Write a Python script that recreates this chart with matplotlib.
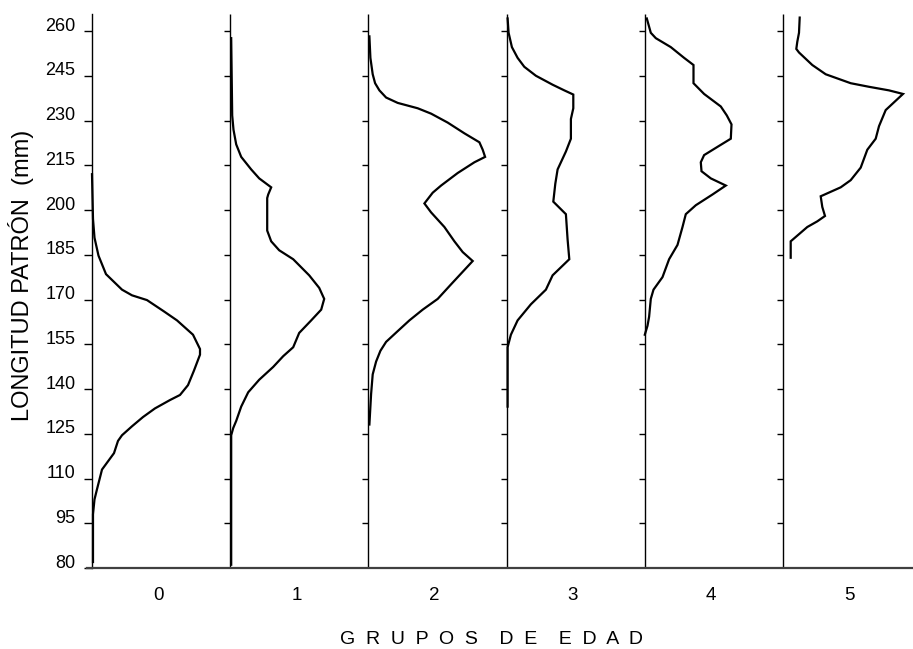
import numpy as np
import matplotlib.pyplot as plt
from matplotlib.transforms import ScaledTranslation

GRUPOS = [0, 1, 2, 3, 4, 5]
Y_TICKS = list(range(80, 261, 15))
Y_MIN, Y_MAX = 80, 265.7

# longitud patrón (mm) y frecuencia de cada grupo de edad
lp_0 = [212, 197, 190.7, 184.7, 178.5, 173.3, 171.4, 169.8, 166, 163, 158.2, 153.4,
        151.5, 146.2, 141.3, 138, 136.3, 133.5, 130.6, 127.5, 124.5, 122.6, 118.5,
        113, 106.4, 103, 98, 82]
fr_0 = [0, 1, 2.5, 6.5, 14, 30, 40, 55, 72, 85, 101, 108,
        108, 102, 96, 88, 78, 63, 51, 40, 30, 26, 22,
        10, 5, 2.5, 1, 1]

lp_1 = [257.6, 231.7, 226.9, 222, 217.8, 213.6, 210.6, 207.6, 205.2, 204, 193.1,
        189.5, 186.5, 183.5, 178.1, 173.9, 170.2, 166.6, 163, 158.8, 154, 151,
        147.4, 143.1, 138.9, 134.1, 129.3, 126.9, 124.5, 81.1]
fr_1 = [1, 2, 3.3, 6, 11, 21, 29, 41, 38, 37, 37,
        41, 49, 63, 79, 89, 94, 91, 81, 69, 63, 53,
        43, 29, 18, 11, 6, 3, 1, 1]

lp_2 = [258.2, 251, 245.5, 242.5, 240.1, 237.7, 235.9, 234.1, 232.3, 229.3, 225.7,
        222.7, 220.2, 217.8, 216, 212.4, 208.2, 205.8, 202.2, 199.2, 194.3, 189.5,
        185.9, 182.9, 179.9, 175.1, 170.2, 166.6, 163, 159.4, 155.8, 152.8, 149.2,
        144.9, 138.3, 128.1]
fr_2 = [1, 2, 4.3, 6.7, 11, 17.7, 29.3, 49.3, 62.7, 79.3, 96,
        111, 114.3, 116.7, 106, 89.3, 72.7, 64.3, 56, 62.7, 76, 86,
        94.3, 104.3, 96, 82.7, 69.3, 54.3, 41, 29.3, 17.7, 12, 7.7,
        4.3, 2.7, 1]

lp_3 = [264.2, 259.4, 254.6, 251, 248, 245, 242, 240.1, 238.7, 234.1, 230.5, 223.9,
        219.6, 213.6, 208.8, 202.8, 198.6, 190.1, 183.5, 178.1, 173.3, 168.4, 163,
        158.2, 154, 134.1]
fr_3 = [1, 2, 5.3, 11, 17.7, 29.3, 46, 57.7, 66.7, 66.7, 64.3, 64.3,
        59.3, 51, 48.7, 46.7, 59.3, 61, 62.7, 46, 39.3, 24.3, 11,
        4.3, 1, 1]

lp_4 = [264.2, 259.4, 257.6, 254.6, 251, 248.6, 242.5, 238.9, 234.7, 231.7, 228.7,
        223.9, 221.5, 218.4, 216, 213, 210.6, 208.2, 205.2, 201.6, 198.6, 194.3,
        188.3, 183.5, 177.5, 173.3, 170.2, 164.2, 161.2, 158.2]
fr_4 = [2, 6, 11, 26, 39.3, 48.7, 48.7, 59.3, 76, 82, 86.7,
        86, 74.3, 59.3, 56, 56.7, 66, 81, 67.7, 51, 41, 37.7,
        32.7, 24.3, 17.7, 8.7, 6, 4.3, 2.7, 0]

lp_5 = [264.5, 259.4, 256.4, 254, 252.8, 248.6, 245.5, 243.7, 242.5, 241.3, 240.1,
        238.9, 233.5, 228.1, 223.9, 220.2, 214.2, 210, 207.6, 204.6, 201, 198,
        196.2, 194.3, 191.9, 189.5, 187.1, 184]
fr_5 = [16.7, 16, 14.3, 13.3, 16, 29.3, 42.7, 57.7, 67.7, 86, 106,
        120, 102.7, 96, 92.7, 84.3, 77.7, 67.7, 57.7, 37.7, 39.3, 42,
        34.3, 24.3, 16, 7.7, 7.7, 7.7]

LONGITUDES = [lp_0, lp_1, lp_2, lp_3, lp_4, lp_5]
FRECUENCIAS = [fr_0, fr_1, fr_2, fr_3, fr_4, fr_5]

ESCALA = 1 / 138.2      # frecuencia -> ancho de un grupo
TICK = 6 / 138.2        # largo de las marcas de cada eje vertical

fig = plt.figure(figsize=(9.13, 6.49), dpi=100)
ax = fig.add_axes([87 / 913, 81 / 649, 826 / 913, 554 / 649])

for g, lp, fr in zip(GRUPOS, LONGITUDES, FRECUENCIAS):
    ax.plot(g + np.asarray(fr) * ESCALA, lp, color="black", lw=1.6,
            solid_joinstyle="miter")

# ejes verticales de los grupos 1..5 con sus marcas
ax.vlines(GRUPOS[1:], Y_MIN, Y_MAX, color="black", lw=1.0)
for g in GRUPOS[1:]:
    ax.hlines(Y_TICKS, g - TICK, g, color="black", lw=1.0)

ax.set_xlim(-5 / 138.2, 821 / 138.2)
ax.set_ylim(Y_MIN, Y_MAX)

ax.spines["top"].set_visible(False)
ax.spines["right"].set_visible(False)
ax.spines["left"].set_position(("data", 0))
ax.spines["left"].set_linewidth(1.0)
ax.spines["bottom"].set_color("#404040")
ax.spines["bottom"].set_linewidth(1.6)

ax.set_yticks(Y_TICKS)
ax.set_yticklabels([str(v) for v in Y_TICKS], family="Liberation Sans", fontsize=13)
ax.tick_params(axis="y", direction="out", length=6, width=1.0, pad=6)
subir = ScaledTranslation(0, 0.07, fig.dpi_scale_trans)
for lab in ax.get_yticklabels():
    lab.set_transform(lab.get_transform() + subir)

ax.set_xticks([g + 0.48 for g in GRUPOS])
ax.set_xticklabels([str(g) for g in GRUPOS], family="Liberation Sans", fontsize=13.5)
ax.tick_params(axis="x", length=0, pad=13.5)

fig.text(21 / 913, 1 - 275 / 649, "LONGITUD PATRÓN  (mm)", rotation=90,
         ha="center", va="center", fontsize=17, family="Liberation Sans")
fig.text(491 / 913, 1 - 640 / 649, "G  R  U  P  O  S    D  E    E  D  A  D",
         ha="center", va="center", fontsize=14, family="Liberation Sans")

fig.savefig("out.png", dpi=100)
